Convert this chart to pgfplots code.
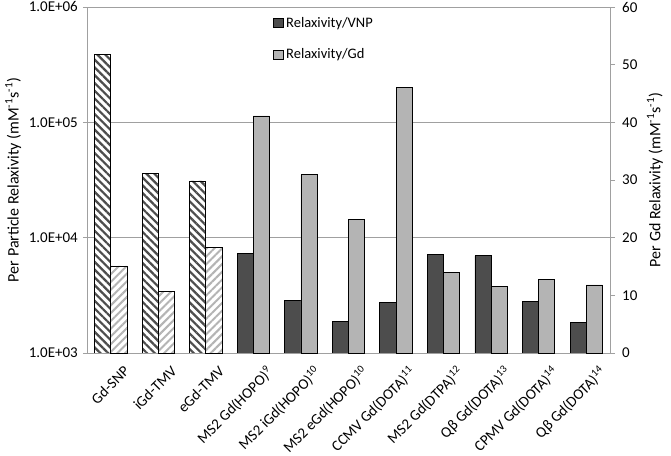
\documentclass[border=0pt]{standalone}
\usepackage{fontspec}
\setmainfont{Carlito}
\usepackage{pgfplots}
\pgfplotsset{compat=1.18}
\usetikzlibrary{patterns.meta}
\definecolor{darkbar}{RGB}{77,77,77}
\definecolor{lightbar}{RGB}{180,180,180}
\definecolor{gridc}{RGB}{160,160,160}
\begin{document}
\begin{tikzpicture}
\pgfplotsset{
  every axis/.append style={
    scale only axis, width=523pt, height=346pt,
    xmin=-0.5, xmax=10.5,
    tick label style={font=\fontsize{15}{18}\selectfont},
    label style={font=\fontsize{16}{19}\selectfont},
    /pgf/number format/assume math mode=true,
  },
}
\begin{axis}[
  name=ax,
  ymode=log, ymin=1000, ymax=1e6, log origin=infty,
  xtick={0,...,10},
  xticklabels={Gd-SNP, iGd-TMV, eGd-TMV, MS2 Gd(HOPO)\textsuperscript{9}, MS2 iGd(HOPO)\textsuperscript{10}, MS2 eGd(HOPO)\textsuperscript{10}, CCMV Gd(DOTA)\textsuperscript{11}, MS2 Gd(DTPA)\textsuperscript{12}, Qβ Gd(DOTA)\textsuperscript{13}, CPMV Gd(DOTA)\textsuperscript{14}, Qβ Gd(DOTA)\textsuperscript{14}},
  x tick label style={rotate=45, anchor=north east, inner sep=2pt, xshift=5pt, yshift=-12pt},
  ytick={1e3,1e4,1e5,1e6},
  yticklabels={\mbox{1.0E+03},\mbox{1.0E+04},\mbox{1.0E+05},\mbox{1.0E+06}},
  y tick label style={inner sep=2pt, xshift=-3pt},
  ymajorgrids, major grid style={gridc, line width=0.8pt},
  axis line style={gridc, line width=0.8pt},
  xtick style={draw=none},
  ytick style={gridc, line width=0.8pt},
  tick align=outside, major tick length=4pt, minor tick length=0pt,
  ylabel={Per Particle Relaxivity (mM\textsuperscript{-1}s\textsuperscript{-1})},
  ylabel style={yshift=2pt},
]
\addplot[ybar, bar width=0.34, bar shift=-0.17, draw=black, line width=0.8pt, fill=white,
  postaction={pattern={Lines[angle=-45,distance=5.5pt,line width=2.2pt]}, pattern color=darkbar}]
  coordinates {(0,390000) (1,36000) (2,31000)};
\addplot[ybar, bar width=0.34, bar shift=-0.17, draw=black, line width=0.8pt, fill=darkbar]
  coordinates {(3,7300) (4,2880) (5,1870) (6,2750) (7,7150) (8,6960) (9,2820) (10,1830)};
\end{axis}
\begin{axis}[
  ymin=0, ymax=60,
  axis x line=none, axis y line*=right,
  ytick={0,10,...,60},
  axis line style={gridc, line width=0.8pt},
  tick style={gridc, line width=0.8pt},
  tick align=outside, major tick length=5pt,
  y tick label style={inner sep=2pt, xshift=5pt},
  ylabel={Per Gd Relaxivity (mM\textsuperscript{-1}s\textsuperscript{-1})},
  ylabel style={yshift=-4pt},
  legend style={at={(0.356,0.978)}, anchor=north west, draw=none, fill=none,
    row sep=15pt, font=\fontsize{14.5}{17}\selectfont, inner sep=0pt,
    nodes={inner sep=2.5pt}},
  legend cell align=left,
  legend image code/.code={\draw[#1, line width=0.8pt] (0pt,-4.5pt) rectangle (9.5pt,4.5pt);},
]
\addlegendimage{draw=black, fill=darkbar}
\addlegendentry{Relaxivity/VNP}
\addplot[ybar, bar width=0.34, bar shift=0.17, draw=black, line width=0.8pt, fill=white,
  postaction={pattern={Lines[angle=45,distance=5.5pt,line width=2pt]}, pattern color=lightbar}, forget plot]
  coordinates {(0,15.1) (1,10.6) (2,18.3)};
\addplot[ybar, bar width=0.34, bar shift=0.17, draw=black, line width=0.8pt, fill=lightbar]
  coordinates {(3,41.1) (4,30.9) (5,23.1) (6,46.0) (7,13.9) (8,11.6) (9,12.7) (10,11.8)};
\addlegendentry{Relaxivity/Gd}
\end{axis}
\pgfresetboundingbox
\path[use as bounding box] ([xshift=-87pt,yshift=-102pt]ax.south west) rectangle ([xshift=61pt,yshift=7pt]ax.north east);
\end{tikzpicture}
\end{document}
